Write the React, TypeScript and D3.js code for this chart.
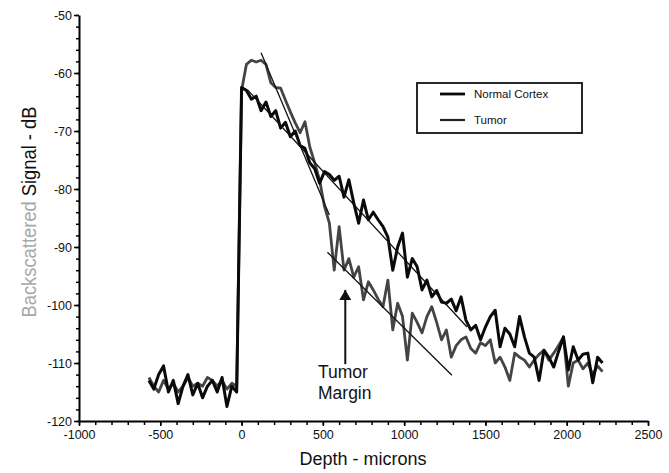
import React, { useRef, useEffect } from "react";
import * as d3 from "d3";

// depth samples in microns (-570 .. 2220, every 30)
const depth = d3.range(-570, 2221, 30);

const normalCortex = [
  -113, -114.5, -112, -110.5, -115, -113, -117, -114, -112, -115.5,
  -113.5, -116, -114, -113, -115, -112.5, -117.5, -114, -115,
  -62.5, -63, -64.5, -64, -66.5, -65, -67.5, -66.5, -69.5, -68.5,
  -71, -70, -72.5, -73, -75.5, -76.5, -79, -77, -77.5, -78.5,
  -77.8, -81.4, -78.4, -82.4, -85.9, -81.9, -85.3, -84, -85.3, -86.5,
  -88.3, -94, -90, -87.6, -95.2, -92, -93.4, -97.4, -95.7, -98.6,
  -97.5, -99.5, -99.7, -99, -101, -98.6, -102.6, -104.3, -103.5, -106,
  -103.8, -102, -100.9, -107.2, -104, -105, -107.2, -102, -105.5, -108.3,
  -109, -113, -107.8, -109, -110.7, -108, -105.5, -111.2, -107.2, -109.5,
  -108.5, -108.3, -113.4, -109, -110
];

const tumor = [
  -112.5, -114, -115, -113, -114.5, -113.5, -115, -114, -112.5, -114,
  -113.5, -114, -112.5, -113, -114, -113, -114.5, -113.5, -114,
  -63, -58.5, -57.8, -58.1, -57.8, -58.5, -61.7, -62.5, -62.6, -64.7,
  -66.7, -68.6, -70.3, -68.4, -72.8, -75.5, -78.5, -83, -85.9, -94,
  -86.5, -94, -92, -95.2, -93.4, -99.1, -96, -97.4, -99, -100.3,
  -95.7, -104.3, -99.7, -102, -109.5, -101.4, -103, -104.8, -102, -100.3,
  -103, -106, -104.3, -109, -107, -106, -105.5, -107.5, -108.3, -106.5,
  -107, -106, -110, -109, -110.7, -113, -108.3, -109, -109.5, -110.7,
  -109.5, -108.5, -107.8, -109.5, -108.3, -107, -105.5, -114, -110, -109.5,
  -111, -110, -112, -110.5, -111.5
];

// straight-line fits [depth, dB]
const tumorFitSurface = [[120, -56.5], [540, -84.5]];
const tumorFitDeep = [[528, -90.9], [1294, -112.1]];
const normalFit = [[37, -62.9], [1387, -103.8]];

// arrow pointing at the tumor margin
const marginArrow = [[638, -110.2], [638, -97.4]];

const xTicks = d3.range(-1000, 2501, 500);
const yTicks = d3.range(-120, -49, 10);

const W = 669;
const H = 473;
const FONT = "'Liberation Sans', Arial, Helvetica, sans-serif";

const App = () => {
  const svgRef = useRef<SVGSVGElement>(null);

  useEffect(() => {
    const svg = d3.select(svgRef.current);
    svg.selectAll("*").remove();

    const x = d3.scaleLinear().domain([-1000, 2500]).range([79, 648]);
    const y = d3.scaleLinear().domain([-120, -50]).range([421, 15]);

    // minor ticks first
    svg
      .append("g")
      .attr("transform", `translate(0,${y(-120)})`)
      .call(
        d3
          .axisBottom(x)
          .tickValues(d3.range(-1000, 2501, 100))
          .tickSize(4)
          .tickSizeOuter(0)
          .tickFormat(() => "")
      )
      .call((g) => g.select(".domain").remove())
      .call((g) => g.selectAll("line").attr("stroke-width", 1.5));

    svg
      .append("g")
      .attr("transform", `translate(${x(-1000)},0)`)
      .call(
        d3
          .axisLeft(y)
          .tickValues(d3.range(-120, -49, 2))
          .tickSize(3)
          .tickSizeOuter(0)
          .tickFormat(() => "")
      )
      .call((g) => g.select(".domain").remove())
      .call((g) => g.selectAll("line").attr("stroke-width", 1.5));

    const xAxis = svg
      .append("g")
      .attr("transform", `translate(0,${y(-120)})`)
      .call(
        d3
          .axisBottom(x)
          .tickValues(xTicks)
          .tickSize(5)
          .tickSizeOuter(0)
          .tickPadding(4)
          .tickFormat((d) => String(d))
      );
    xAxis.select(".domain").attr("stroke-width", 2);
    xAxis.selectAll("line").attr("stroke-width", 1.5);
    xAxis
      .selectAll("text")
      .attr("font-family", FONT)
      .attr("font-size", 12.5)
      .attr("fill", "#111");

    const yAxis = svg
      .append("g")
      .attr("transform", `translate(${x(-1000)},0)`)
      .call(
        d3
          .axisLeft(y)
          .tickValues(yTicks)
          .tickSize(5)
          .tickSizeOuter(0)
          .tickPadding(2)
          .tickFormat((d) => String(d))
      );
    yAxis.select(".domain").attr("stroke-width", 2);
    yAxis.selectAll("line").attr("stroke-width", 1.5);
    yAxis
      .selectAll("text")
      .attr("font-family", FONT)
      .attr("font-size", 12.5)
      .attr("fill", "#111");

    // axis titles
    const yTitle = svg
      .append("text")
      .attr("transform", `translate(36,212) rotate(-90)`)
      .attr("text-anchor", "middle")
      .attr("font-family", FONT)
      .attr("font-size", 21)
      .attr("textLength", 211)
      .attr("lengthAdjust", "spacingAndGlyphs");
    yTitle.append("tspan").attr("fill", "#a8a8a8").text("Backscattered ");
    yTitle.append("tspan").attr("fill", "#111").text("Signal - dB");

    svg
      .append("text")
      .attr("x", 363)
      .attr("y", 465)
      .attr("text-anchor", "middle")
      .attr("font-family", FONT)
      .attr("font-size", 18)
      .attr("fill", "#111")
      .text("Depth - microns");

    const line = d3
      .line<number>()
      .x((d, i) => x(depth[i]))
      .y((d) => y(d));

    svg
      .append("path")
      .datum(tumor)
      .attr("d", line)
      .attr("fill", "none")
      .attr("stroke", "#444")
      .attr("stroke-width", 2.8)
      .attr("stroke-linejoin", "round");

    svg
      .append("path")
      .datum(normalCortex)
      .attr("d", line)
      .attr("fill", "none")
      .attr("stroke", "#0a0a0a")
      .attr("stroke-width", 3)
      .attr("stroke-linejoin", "round");

    const fit = d3
      .line<number[]>()
      .x((d) => x(d[0]))
      .y((d) => y(d[1]));

    [tumorFitSurface, tumorFitDeep, normalFit].forEach((seg) => {
      svg
        .append("path")
        .datum(seg)
        .attr("d", fit)
        .attr("fill", "none")
        .attr("stroke", "#111")
        .attr("stroke-width", 1.3);
    });

    // annotation
    svg
      .append("defs")
      .append("marker")
      .attr("id", "arrowhead")
      .attr("viewBox", "0 0 10 12")
      .attr("refX", 10)
      .attr("refY", 6)
      .attr("markerWidth", 10)
      .attr("markerHeight", 12)
      .attr("markerUnits", "userSpaceOnUse")
      .attr("orient", "auto")
      .append("path")
      .attr("d", "M0,0 L10,6 L0,12 Z")
      .attr("fill", "#111");

    svg
      .append("path")
      .datum(marginArrow)
      .attr("d", fit)
      .attr("stroke", "#111")
      .attr("stroke-width", 2)
      .attr("marker-end", "url(#arrowhead)");

    const note = svg
      .append("text")
      .attr("font-family", FONT)
      .attr("font-size", 17.5)
      .attr("fill", "#111");
    note.append("tspan").attr("x", 318).attr("y", 378).text("Tumor");
    note.append("tspan").attr("x", 318).attr("y", 399).text("Margin");

    // legend
    const legend = svg.append("g");
    legend
      .append("rect")
      .attr("x", 417)
      .attr("y", 83)
      .attr("width", 165)
      .attr("height", 50)
      .attr("fill", "white")
      .attr("stroke", "#111")
      .attr("stroke-width", 1.8);

    const items = [
      { label: "Normal Cortex", color: "#0a0a0a", width: 2.8, cy: 94 },
      { label: "Tumor", color: "#222", width: 2.2, cy: 120 }
    ];
    items.forEach((it) => {
      legend
        .append("line")
        .attr("x1", 440)
        .attr("x2", 465)
        .attr("y1", it.cy)
        .attr("y2", it.cy)
        .attr("stroke", it.color)
        .attr("stroke-width", it.width);
      legend
        .append("text")
        .attr("x", 474)
        .attr("y", it.cy + 4)
        .attr("font-family", FONT)
        .attr("font-size", 11.5)
        .attr("fill", "#111")
        .text(it.label);
    });
  }, []);

  return (
    <div style={{ position: "absolute", left: 0, top: 0, width: W, height: H, background: "white" }}>
      <svg ref={svgRef} width={W} height={H} style={{ display: "block" }} />
    </div>
  );
};

export default App;
